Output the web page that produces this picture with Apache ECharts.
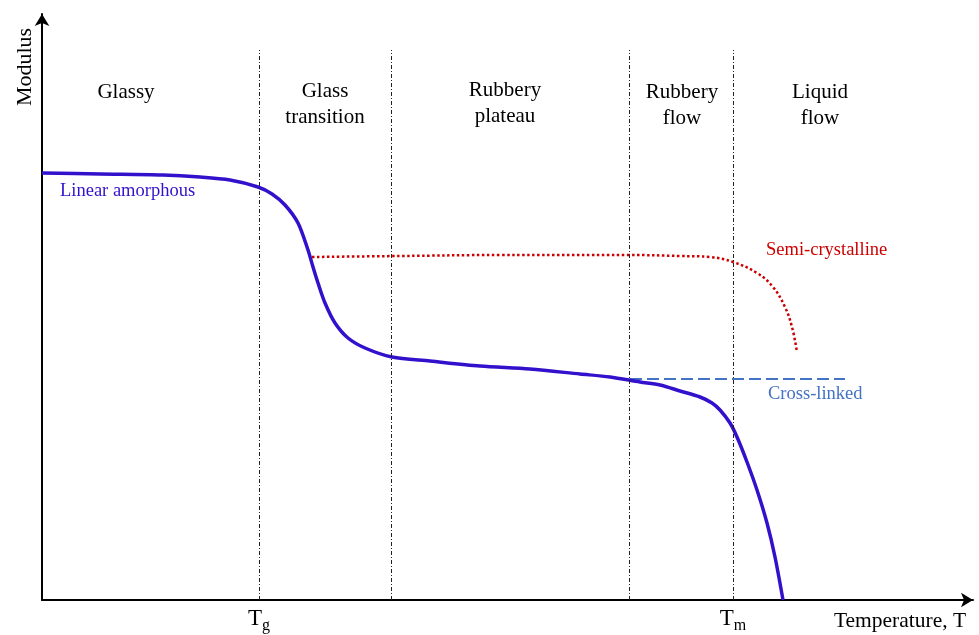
<!DOCTYPE html>
<html>
<head>
<meta charset="utf-8">
<script src="https://cdn.jsdelivr.net/npm/echarts@6/dist/echarts.min.js"></script>
<style>html,body{margin:0;padding:0;background:#fff;}#c{width:979px;height:635px;}</style>
</head>
<body>
<div id="c"></div>
<script>
// Units: x = temperature (arbitrary), y = modulus (arbitrary)
const linearAmorphous = [[0,427],[58,426],[121,425],[158,423],[188,420],[216,413],[230,406],[243,395],[256,377],[266,350],[271,333],[276,317],[283,297],[293,277],[306,262],[323,252],[350,243],[388,239],[438,234],[488,231],[538,226],[568,223],[598,218],[618,215],[638,209],[658,203],[670,197],[678,190],[688,177],[695,163],[705,138],[715,110],[725,77],[733,43],[741,0]];
const semiCrystalline = [[270,343],[358,344],[458,345],[587,345],[638,344],[668,343],[691,338],[715,327],[731,313],[743,293],[750,273],[755,248]];
const crossLinked = [[588,221],[803,221]];
const regionBounds = [217,349,587,691];
const regionTop = 550;
const tickValues = [217,691];
const tickSubs = ['g','m'];
const regionLabels = [[84,508,'Glassy'],[283,496,'Glass\ntransition'],[463,497,'Rubbery\nplateau'],[640,495,'Rubbery\nflow'],[778,495,'Liquid\nflow']];
const seriesLabels = [[18,409,'Linear amorphous','#3311CC'],[724,350,'Semi-crystalline','#CC0000'],[726,206,'Cross-linked','#4472C4']];

const FONT = "'Liberation Serif','Times New Roman',serif";
const chart = echarts.init(document.getElementById('c'), null, {renderer:'canvas'});
chart.setOption({
  animation:false,
  backgroundColor:'#fff',
  grid:{left:42,right:6,top:14,bottom:35,containLabel:false},
  xAxis:{type:'value',min:0,max:931,
    axisLine:{show:true,symbol:['none','arrow'],symbolSize:[11,12],lineStyle:{color:'#000',width:2}},
    axisTick:{show:false},splitLine:{show:false},
    axisLabel:{show:true,customValues:tickValues,margin:4,
      formatter:(v)=>{const i=tickValues.indexOf(v);return i<0?'':'{t|T}{s|'+tickSubs[i]+'}';},
      rich:{t:{fontFamily:FONT,fontSize:23,color:'#000'},s:{fontFamily:FONT,fontSize:16,color:'#000',padding:[14,0,0,0]}}}
  },
  yAxis:{type:'value',min:0,max:586,
    axisLine:{show:true,symbol:['none','arrow'],symbolSize:[11,12],lineStyle:{color:'#000',width:2}},
    axisTick:{show:false},splitLine:{show:false},axisLabel:{show:false}
  },
  graphic:[
    {type:'text',x:25,y:67,rotation:Math.PI/2,style:{text:'Modulus',fontFamily:FONT,fontSize:22,fill:'#000',align:'center',verticalAlign:'middle'}},
    {type:'text',x:900,y:621,style:{text:'Temperature, T',fontFamily:FONT,fontSize:21.5,fill:'#000',align:'center',verticalAlign:'middle'}}
  ],
  series:[
    {type:'line',data:[],silent:true,
      markLine:{silent:true,symbol:['none','none'],label:{show:false},
        lineStyle:{color:'#222',width:1,type:[4,2,1,2]},
        data:regionBounds.map(x=>[{coord:[x,0]},{coord:[x,regionTop]}])}},
    {type:'line',data:semiCrystalline,smooth:0.4,showSymbol:false,
      lineStyle:{color:'#CC0000',width:2.5,type:[2.5,2.5]}},
    {type:'line',data:crossLinked,showSymbol:false,
      lineStyle:{color:'#4472C4',width:2,type:[12,5]}},
    {type:'line',data:linearAmorphous,smooth:0.3,showSymbol:false,
      lineStyle:{color:'#3311CC',width:3.5}},
    {type:'scatter',symbolSize:0,silent:true,itemStyle:{opacity:1},
      data:regionLabels.map(d=>({value:[d[0],d[1]],label:{formatter:d[2]}})),
      label:{show:true,opacity:1,position:'inside',fontFamily:FONT,fontSize:21,lineHeight:26,color:'#000',textBorderWidth:0,align:'center',verticalAlign:'middle'}},
    {type:'scatter',symbolSize:0,silent:true,itemStyle:{opacity:1},
      data:seriesLabels.map(d=>({value:[d[0],d[1]],label:{formatter:d[2],color:d[3]}})),
      label:{show:true,opacity:1,position:'inside',fontFamily:FONT,fontSize:18.5,textBorderWidth:0,align:'left',verticalAlign:'middle'}}
  ]
});
</script>
</body>
</html>
